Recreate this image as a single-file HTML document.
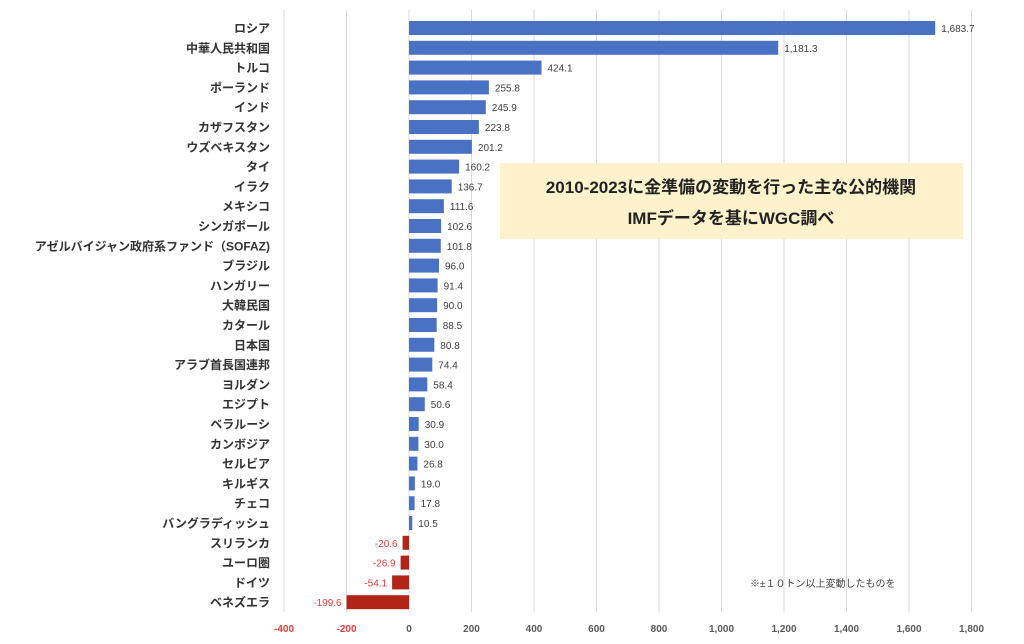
<!DOCTYPE html>
<html><head><meta charset="utf-8"><style>
body{margin:0;background:#fff;}
svg{display:block;font-family:"Liberation Sans","Noto Sans CJK JP",sans-serif;}
</style></head><body>
<svg width="1024" height="644" viewBox="0 0 1024 644" xmlns="http://www.w3.org/2000/svg">
<g stroke="#d9d9d9" stroke-width="1">
<line x1="284" y1="10" x2="284" y2="612"/><line x1="346.5" y1="10" x2="346.5" y2="612"/>
<line x1="471.5" y1="10" x2="471.5" y2="612"/><line x1="534" y1="10" x2="534" y2="612"/>
<line x1="596.5" y1="10" x2="596.5" y2="612"/><line x1="659" y1="10" x2="659" y2="612"/>
<line x1="721.5" y1="10" x2="721.5" y2="612"/><line x1="784" y1="10" x2="784" y2="612"/>
<line x1="846.5" y1="10" x2="846.5" y2="612"/><line x1="909" y1="10" x2="909" y2="612"/>
<line x1="971.5" y1="10" x2="971.5" y2="612"/>
<line x1="409" y1="10" x2="409" y2="612"/>
</g>
<g fill="#4a72c4">
<rect x="409" y="21" width="526.2" height="14"/>
<rect x="409" y="40.8" width="369.2" height="14"/>
<rect x="409" y="60.6" width="132.5" height="14"/>
<rect x="409" y="80.4" width="79.9" height="14"/>
<rect x="409" y="100.2" width="76.8" height="14"/>
<rect x="409" y="120" width="69.9" height="14"/>
<rect x="409" y="139.8" width="62.9" height="14"/>
<rect x="409" y="159.6" width="50.1" height="14"/>
<rect x="409" y="179.4" width="42.7" height="14"/>
<rect x="409" y="199.2" width="34.9" height="14"/>
<rect x="409" y="219" width="32.1" height="14"/>
<rect x="409" y="238.8" width="31.8" height="14"/>
<rect x="409" y="258.6" width="30" height="14"/>
<rect x="409" y="278.4" width="28.6" height="14"/>
<rect x="409" y="298.2" width="28.1" height="14"/>
<rect x="409" y="318" width="27.7" height="14"/>
<rect x="409" y="337.8" width="25.3" height="14"/>
<rect x="409" y="357.6" width="23.3" height="14"/>
<rect x="409" y="377.4" width="18.3" height="14"/>
<rect x="409" y="397.2" width="15.8" height="14"/>
<rect x="409" y="417" width="9.7" height="14"/>
<rect x="409" y="436.8" width="9.4" height="14"/>
<rect x="409" y="456.6" width="8.4" height="14"/>
<rect x="409" y="476.4" width="5.9" height="14"/>
<rect x="409" y="496.2" width="5.6" height="14"/>
<rect x="409" y="516" width="3.3" height="14"/>
</g>
<g fill="#b22418">
<rect x="402.6" y="535.8" width="6.4" height="14"/>
<rect x="400.6" y="555.6" width="8.4" height="14"/>
<rect x="392.1" y="575.4" width="16.9" height="14"/>
<rect x="346.6" y="595.2" width="62.4" height="14"/>
</g>
<g font-size="12" font-weight="bold" fill="#333" text-anchor="end">
<text x="270" y="32.5">ロシア</text>
<text x="270" y="52.3">中華人民共和国</text>
<text x="270" y="72.1">トルコ</text>
<text x="270" y="91.9">ポーランド</text>
<text x="270" y="111.7">インド</text>
<text x="270" y="131.5">カザフスタン</text>
<text x="270" y="151.3">ウズベキスタン</text>
<text x="270" y="171.1">タイ</text>
<text x="270" y="190.9">イラク</text>
<text x="270" y="210.7">メキシコ</text>
<text x="270" y="230.5">シンガポール</text>
<text x="270" y="250.3">アゼルバイジャン政府系ファンド（SOFAZ)</text>
<text x="270" y="270.1">ブラジル</text>
<text x="270" y="289.9">ハンガリー</text>
<text x="270" y="309.7">大韓民国</text>
<text x="270" y="329.5">カタール</text>
<text x="270" y="349.3">日本国</text>
<text x="270" y="369.1">アラブ首長国連邦</text>
<text x="270" y="388.9">ヨルダン</text>
<text x="270" y="408.7">エジプト</text>
<text x="270" y="428.5">ベラルーシ</text>
<text x="270" y="448.3">カンボジア</text>
<text x="270" y="468.1">セルビア</text>
<text x="270" y="487.9">キルギス</text>
<text x="270" y="507.7">チェコ</text>
<text x="270" y="527.5">バングラディッシュ</text>
<text x="270" y="547.3">スリランカ</text>
<text x="270" y="567.1">ユーロ圏</text>
<text x="270" y="586.9">ドイツ</text>
<text x="270" y="606.7">ベネズエラ</text>
</g>
<g font-size="10" fill="#404040">
<text x="941.2" y="32">1,683.7</text>
<text x="784.2" y="51.8">1,181.3</text>
<text x="547.5" y="71.6">424.1</text>
<text x="494.9" y="91.4">255.8</text>
<text x="491.8" y="111.2">245.9</text>
<text x="484.9" y="131">223.8</text>
<text x="477.9" y="150.8">201.2</text>
<text x="465.1" y="170.6">160.2</text>
<text x="457.7" y="190.4">136.7</text>
<text x="449.9" y="210.2">111.6</text>
<text x="447.1" y="230">102.6</text>
<text x="446.8" y="249.8">101.8</text>
<text x="445" y="269.6">96.0</text>
<text x="443.6" y="289.4">91.4</text>
<text x="443.1" y="309.2">90.0</text>
<text x="442.7" y="329">88.5</text>
<text x="440.3" y="348.8">80.8</text>
<text x="438.3" y="368.6">74.4</text>
<text x="433.3" y="388.4">58.4</text>
<text x="430.8" y="408.2">50.6</text>
<text x="424.7" y="428">30.9</text>
<text x="424.4" y="447.8">30.0</text>
<text x="423.4" y="467.6">26.8</text>
<text x="420.9" y="487.4">19.0</text>
<text x="420.6" y="507.2">17.8</text>
<text x="418.3" y="527">10.5</text>
</g>
<g font-size="10" fill="#e83c3c" text-anchor="end">
<text x="397.6" y="546.8">-20.6</text>
<text x="395.6" y="566.6">-26.9</text>
<text x="387.1" y="586.4">-54.1</text>
<text x="341.6" y="606.2">-199.6</text>
</g>
<g font-size="10" font-weight="bold" text-anchor="middle" fill="#595959">
<text x="284" y="632" fill="#e83c3c">-400</text><text x="346.5" y="632" fill="#e83c3c">-200</text>
<text x="409" y="632">0</text><text x="471.5" y="632">200</text><text x="534" y="632">400</text>
<text x="596.5" y="632">600</text><text x="659" y="632">800</text><text x="721.5" y="632">1,000</text>
<text x="784" y="632">1,200</text><text x="846.5" y="632">1,400</text><text x="909" y="632">1,600</text>
<text x="971.5" y="632">1,800</text>
</g>
<rect x="500" y="163" width="463" height="76" fill="#fdf2cc"/>
<text x="731" y="193" text-anchor="middle" font-size="17" font-weight="bold" fill="#222">2010-2023に金準備の変動を行った主な公的機関</text>
<text x="731" y="224" text-anchor="middle" font-size="17" font-weight="bold" fill="#222">IMFデータを基にWGC調べ</text>
<text x="750" y="587" font-size="10" fill="#444">※±１０トン以上変動したものを</text>
</svg>
</body></html>
